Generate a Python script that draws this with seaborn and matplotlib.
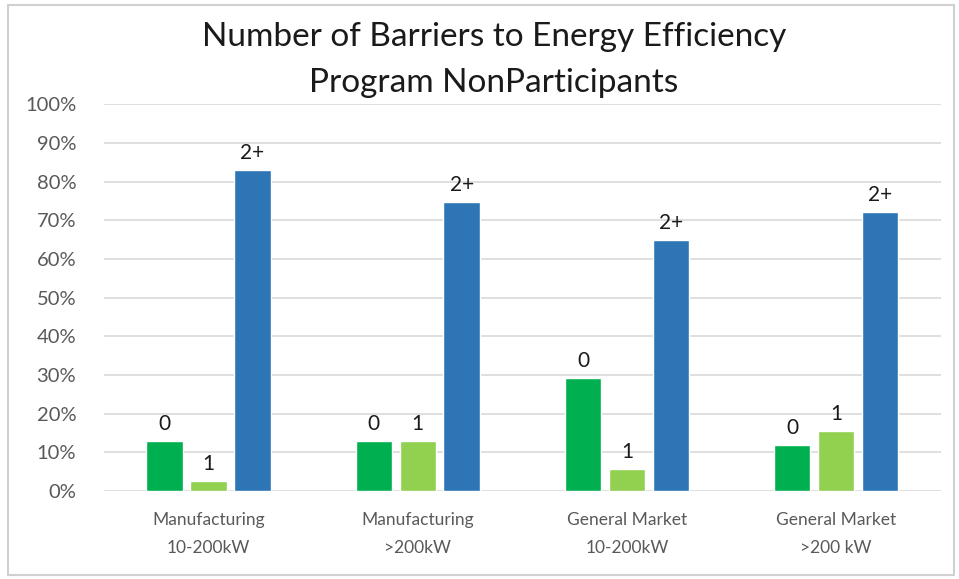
import pandas as pd
import numpy as np
import seaborn as sns
import matplotlib.pyplot as plt
from matplotlib.ticker import PercentFormatter, MultipleLocator
from matplotlib.patches import Rectangle

# values (fractions)
groups = ["Manufacturing\n10-200kW", "Manufacturing\n>200kW",
          "General Market\n10-200kW", "General Market\n>200 kW"]
barriers = ["0", "1", "2+"]
share_0 = [0.13, 0.13, 0.291, 0.12]
share_1 = [0.027, 0.13, 0.058, 0.156]
share_2plus = [0.831, 0.747, 0.649, 0.721]
colors = ["#00B050", "#92D050", "#2E75B6"]

data = pd.DataFrame({
    "Group": groups * 3,
    "Barriers": ["0"] * 4 + ["1"] * 4 + ["2+"] * 4,
    "Share": share_0 + share_1 + share_2plus,
})

sns.set_style("white")
plt.rcParams['font.family'] = ['Lato', 'DejaVu Sans']

fig = plt.figure(figsize=(9.59, 5.79), dpi=100)
ax = fig.add_axes([0.1084, 0.152, 0.8726, 0.668])

sns.barplot(data=data, x="Group", y="Share", hue="Barriers", hue_order=barriers,
            palette=colors, width=0.63, saturation=1, legend=False, ax=ax)

# narrow each bar a bit so there is a small gap between them like the original
for p in ax.patches:
    w = p.get_width()
    nw = w * 0.83
    p.set_x(p.get_x() + (w - nw) / 2)
    p.set_width(nw)

for cont, name in zip(ax.containers, barriers):
    ax.bar_label(cont, labels=[name] * len(cont), padding=5, fontsize=15, color="#1a1a1a")

ax.set_ylim(0, 1.0)
ax.yaxis.set_major_locator(MultipleLocator(0.1))
ax.yaxis.set_major_formatter(PercentFormatter(1.0, decimals=0))
ax.grid(axis="y", color="#D9D9D9", lw=1.2)
ax.set_axisbelow(True)
for s in ax.spines.values():
    s.set_visible(False)
ax.tick_params(axis="y", labelsize=14.5, labelcolor="#595959", length=0, pad=20)
ax.tick_params(axis="x", labelsize=12.5, labelcolor="#595959", length=0, pad=15)
for lbl in ax.get_xticklabels():
    lbl.set_linespacing(1.9)
ax.set_xlabel("")
ax.set_ylabel("")

fig.text(0.515, 1 - 60 / 579, "Number of Barriers to Energy Efficiency\nProgram NonParticipants",
         ha="center", va="center", fontsize=24, linespacing=1.65, color="#1a1a1a")

fig.patches.append(Rectangle((8 / 959, 4 / 579), 946 / 959, 570 / 579, transform=fig.transFigure,
                             fill=False, edgecolor="#D0D0D0", lw=1.5))

fig.savefig("out.png", dpi=100)
